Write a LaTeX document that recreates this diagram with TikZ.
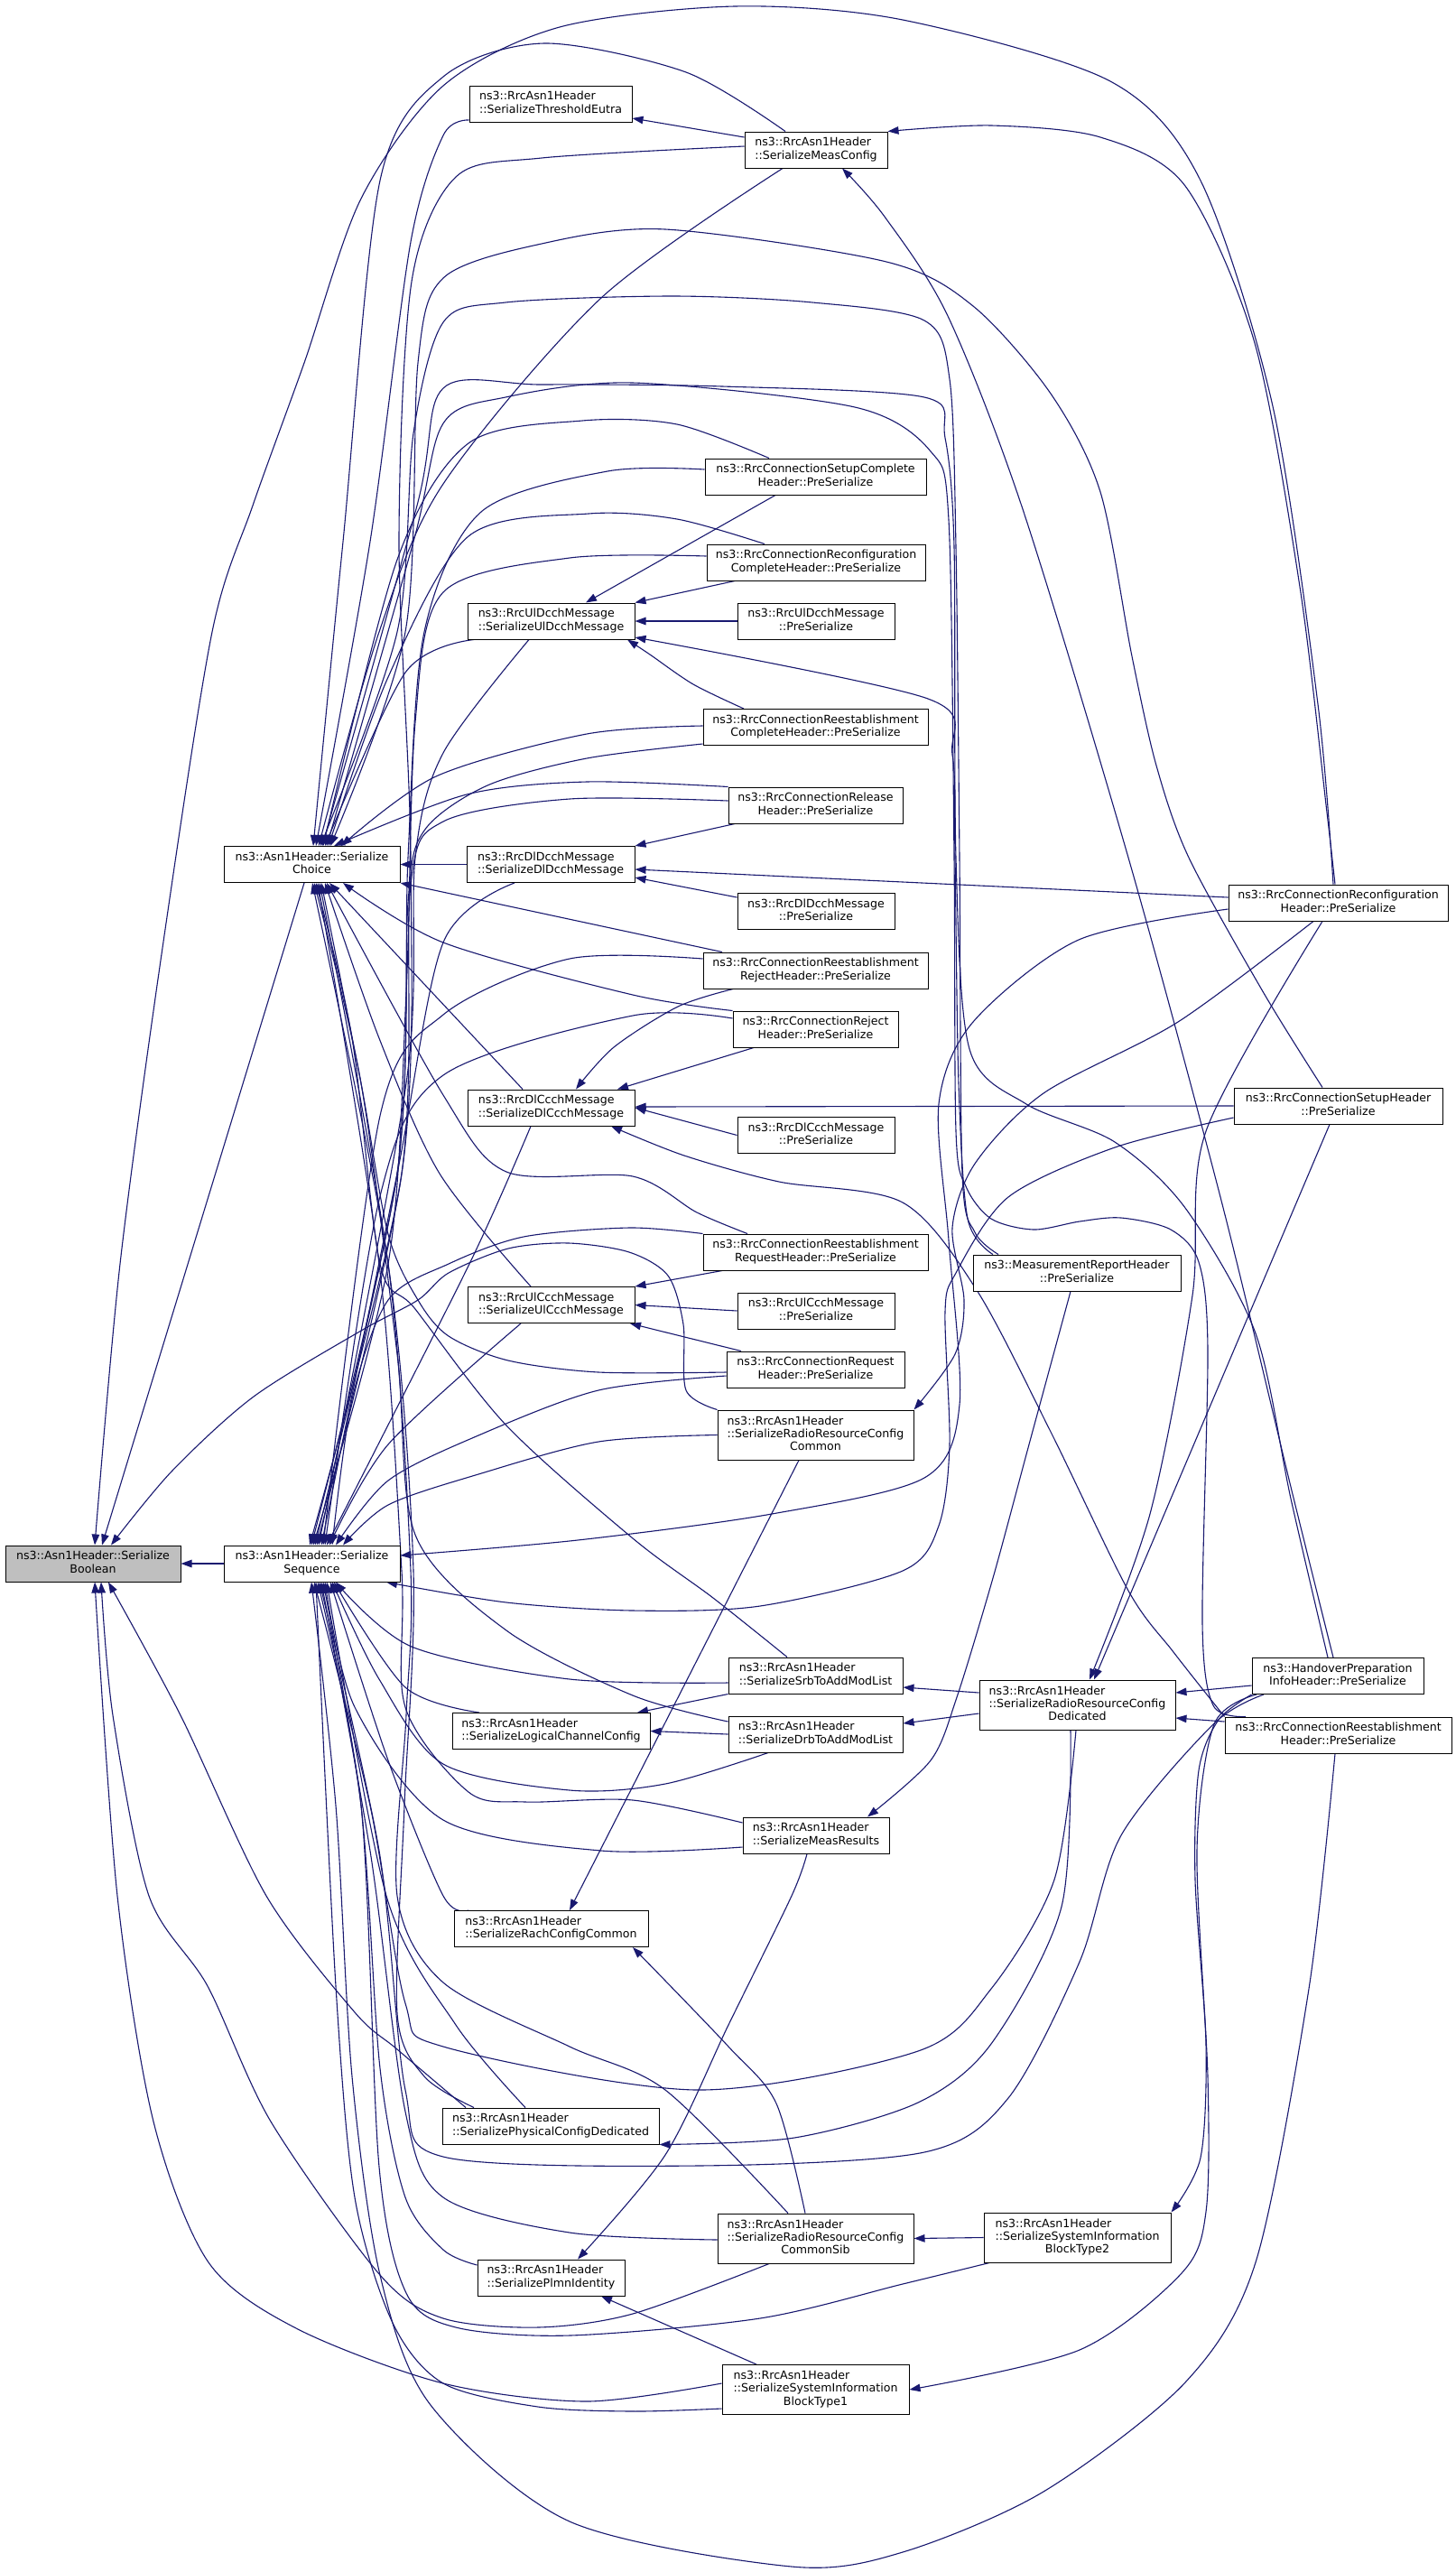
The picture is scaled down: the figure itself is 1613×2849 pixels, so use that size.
\documentclass[tikz,border=0pt]{standalone}
\usepackage{fontspec}
\setmainfont{DejaVu Sans}
\usetikzlibrary{arrows.meta,backgrounds}
\definecolor{callblue}{HTML}{191970}
\definecolor{focusgray}{HTML}{BFBFBF}
\newcommand{\fnlab}[2]{\begin{tabular}{@{}l@{}}#1\\\multicolumn{1}{@{}c@{}}{#2}\end{tabular}}
\newcommand{\fnlabb}[3]{\begin{tabular}{@{}l@{}}#1\\#2\\\multicolumn{1}{@{}c@{}}{#3}\end{tabular}}
\tikzset{
  fn/.style={draw=black, fill=white, line width=1pt, inner sep=0pt, minimum height=40pt,
    font=\fontsize{12.6pt}{14.3pt}\selectfont},
  fn3/.style={fn, minimum height=55pt},
  call/.style={draw=callblue, line width=1.1pt, -{Triangle[length=12pt,width=8.5pt]}},
}
\begin{document}
\begin{tikzpicture}[x=1pt, y=-1pt]
    % Page
    \useasboundingbox (0,0) rectangle (1613,2849);

    % Column 0 and 1
    \node[fn, fill=focusgray, minimum width=194pt] (B) at (103,1732) {\fnlab{ns3::Asn1Header::Serialize}{Boolean}};
    \node[fn, minimum width=195pt] (C) at (345.5,957.5) {\fnlab{ns3::Asn1Header::Serialize}{Choice}};
    \node[fn, minimum width=195pt] (S) at (345.5,1732) {\fnlab{ns3::Asn1Header::Serialize}{Sequence}};

    % Column 2
    \node[fn, minimum width=180pt] (TE) at (610,115) {\fnlab{ns3::RrcAsn1Header}{::SerializeThresholdEutra}};
    \node[fn, minimum width=185pt] (UDS) at (610.5,688) {\fnlab{ns3::RrcUlDcchMessage}{::SerializeUlDcchMessage}};
    \node[fn, minimum width=186pt] (DDS) at (610,957.5) {\fnlab{ns3::RrcDlDcchMessage}{::SerializeDlDcchMessage}};
    \node[fn, minimum width=185pt] (DCS) at (610.5,1227) {\fnlab{ns3::RrcDlCcchMessage}{::SerializeDlCcchMessage}};
    \node[fn, minimum width=185pt] (UCS) at (610.5,1445.5) {\fnlab{ns3::RrcUlCcchMessage}{::SerializeUlCcchMessage}};
    \node[fn, minimum width=219pt] (LCC) at (610.5,1917.5) {\fnlab{ns3::RrcAsn1Header}{::SerializeLogicalChannelConfig}};
    \node[fn, minimum width=215pt] (RCC) at (610.5,2136.5) {\fnlab{ns3::RrcAsn1Header}{::SerializeRachConfigCommon}};
    \node[fn, minimum width=240pt] (PCD) at (610,2355) {\fnlab{ns3::RrcAsn1Header}{::SerializePhysicalConfigDedicated}};
    \node[fn, minimum width=163pt] (PI) at (610.5,2523) {\fnlab{ns3::RrcAsn1Header}{::SerializePlmnIdentity}};

    % Column 3
    \node[fn, minimum width=158pt] (MC) at (904,166) {\fnlab{ns3::RrcAsn1Header}{::SerializeMeasConfig}};
    \node[fn, minimum width=245pt] (SCH) at (903.5,528) {\fnlab{ns3::RrcConnectionSetupComplete}{Header::PreSerialize}};
    \node[fn, minimum width=242pt] (RCCH) at (904,623) {\fnlab{ns3::RrcConnectionReconfiguration}{CompleteHeader::PreSerialize}};
    \node[fn, minimum width=174pt] (UDP) at (904,688) {\fnlab{ns3::RrcUlDcchMessage}{::PreSerialize}};
    \node[fn, minimum width=249pt] (RECH) at (903.5,805.5) {\fnlab{ns3::RrcConnectionReestablishment}{CompleteHeader::PreSerialize}};
    \node[fn, minimum width=193pt] (RLH) at (903.5,892) {\fnlab{ns3::RrcConnectionRelease}{Header::PreSerialize}};
    \node[fn, minimum width=174pt] (DDP) at (904,1009.5) {\fnlab{ns3::RrcDlDcchMessage}{::PreSerialize}};
    \node[fn, minimum width=249pt] (RERH) at (903.5,1075) {\fnlab{ns3::RrcConnectionReestablishment}{RejectHeader::PreSerialize}};
    \node[fn, minimum width=183pt] (RJH) at (903.5,1140) {\fnlab{ns3::RrcConnectionReject}{Header::PreSerialize}};
    \node[fn, minimum width=174pt] (DCP) at (904,1257.5) {\fnlab{ns3::RrcDlCcchMessage}{::PreSerialize}};
    \node[fn, minimum width=249pt] (RQRH) at (903.5,1387) {\fnlab{ns3::RrcConnectionReestablishment}{RequestHeader::PreSerialize}};
    \node[fn, minimum width=174pt] (UCP) at (904,1452) {\fnlab{ns3::RrcUlCcchMessage}{::PreSerialize}};
    \node[fn, minimum width=197pt] (RQH) at (903.5,1517) {\fnlab{ns3::RrcConnectionRequest}{Header::PreSerialize}};
    \node[fn3, minimum width=217pt] (RRCC) at (903.5,1589.5) {\fnlabb{ns3::RrcAsn1Header}{::SerializeRadioResourceConfig}{Common}};
    \node[fn, minimum width=193pt] (SRB) at (903.5,1856) {\fnlab{ns3::RrcAsn1Header}{::SerializeSrbToAddModList}};
    \node[fn, minimum width=193pt] (DRB) at (903.5,1921) {\fnlab{ns3::RrcAsn1Header}{::SerializeDrbToAddModList}};
    \node[fn, minimum width=162pt] (MR) at (904,2033) {\fnlab{ns3::RrcAsn1Header}{::SerializeMeasResults}};
    \node[fn3, minimum width=217pt] (RRCS) at (903.5,2479.5) {\fnlabb{ns3::RrcAsn1Header}{::SerializeRadioResourceConfig}{CommonSib}};
    \node[fn3, minimum width=207pt] (SIB1) at (903.5,2647) {\fnlabb{ns3::RrcAsn1Header}{::SerializeSystemInformation}{BlockType1}};

    % Column 4
    \node[fn, minimum width=230pt] (MRH) at (1193,1410) {\fnlab{ns3::MeasurementReportHeader}{::PreSerialize}};
    \node[fn3, minimum width=217pt] (RRCD) at (1193.5,1888.5) {\fnlabb{ns3::RrcAsn1Header}{::SerializeRadioResourceConfig}{Dedicated}};
    \node[fn3, minimum width=207pt] (SIB2) at (1193.5,2478.5) {\fnlabb{ns3::RrcAsn1Header}{::SerializeSystemInformation}{BlockType2}};

    % Column 5
    \node[fn, minimum width=243pt] (RCH) at (1482.5,1000) {\fnlab{ns3::RrcConnectionReconfiguration}{Header::PreSerialize}};
    \node[fn, minimum width=231pt] (SUH) at (1482.5,1225) {\fnlab{ns3::RrcConnectionSetupHeader}{::PreSerialize}};
    \node[fn, minimum width=190pt] (HPI) at (1482,1856.5) {\fnlab{ns3::HandoverPreparation}{InfoHeader::PreSerialize}};
    \node[fn, minimum width=251pt] (REH) at (1482.5,1922) {\fnlab{ns3::RrcConnectionReestablishment}{Header::PreSerialize}};

    \begin{scope}[on background layer]
    \fill[white] (0,0) rectangle (1613,2849);
    % Straight calls between neighbours
    \foreach \a/\b in {S/B, DDS/C, UDP/UDS, DCP/DCS, UCP/UCS, DRB/LCC, SIB2/RRCS}
        \draw[call] (\a.west) -- (\b.east);
    \draw[call] (MC.west |- 0,152) -- (TE.east |- 0,131);
    \draw[call] (DDP.west |- 0,994) -- (DDS.east |- 0,972);
    \draw[call] (RCH.west |- 0,994) -- (DDS.east |- 0,963);
    \draw[call] (SUH.west |- 0,1225) -- (DCS.east |- 0,1226);
    \draw[call] (SRB.south west) -- (706,0 |- LCC.north);
    \draw[call] (RRCD.west |- 0,1875) -- (SRB.east |- 0,1869);
    \draw[call] (RRCD.west |- 0,1898) -- (DRB.east |- 0,1909);
    \draw[call] (HPI.west |- 0,1867) -- (RRCD.east |- 0,1875);
    \draw[call] (REH.west |- 0,1907) -- (RRCD.east |- 0,1903);
    \draw[call] (859,0 |- SCH.south) -- (649,0 |- UDS.north);
    \draw[call] (814,0 |- RCCH.south) -- (UDS.north east);
    \draw[call] (814,0 |- RLH.south) -- (DDS.north east);
    \draw[call] (835,0 |- RJH.south) -- (684,0 |- DCS.north);
    \draw[call] (800,0 |- RQRH.south) -- (UCS.north east);
    \draw[call] (821,0 |- RQH.north) -- (698,0 |- UCS.south);
    \draw[call] (885,0 |- RRCC.south) -- (631,0 |- RCC.north);
    \draw[call] (838,0 |- SIB1.north) -- (666,0 |- PI.south);
    \draw[call] (1473,0 |- SUH.south) -- (1212,0 |- RRCD.north);
    \draw[call] (800,0 |- RERH.north) -- (C.south east);
    \draw[call] (579,0 |- DCS.north) -- (365,0 |- C.south);
    \draw[call] (337,0 |- C.south) -- (113,0 |- B.north);

    % Calls into Choice from above
    \draw[call] plot[smooth] coordinates {(TE.west |- 0,133) (491,150) (455,268) (410,600) (350,0 |- C.north)};
    \draw[call] plot[smooth] coordinates {(870,0 |- MC.north) (760,80) (603,48) (491,85) (421,200) (380,600) (347,0 |- C.north)};
    \draw[call] plot[smooth] coordinates {(867,0 |- MC.south) (666,330) (491,536) (420,700) (353,0 |- C.north)};
    \draw[call] plot[smooth] coordinates {(852,0 |- SCH.north) (750,470) (645,466) (519,491) (440,620) (358,0 |- C.north)};
    \draw[call] plot[smooth] coordinates {(847,0 |- RCCH.north) (750,575) (652,569) (519,594) (430,750) (364,0 |- C.north)};
    \draw[call] plot[smooth] coordinates {(525,0 |- UDS.south) (449,745) (360,0 |- C.north)};
    \draw[call] plot[smooth] coordinates {(RECH.west |- 0,804) (650,813) (483,860) (378,0 |- C.north)};
    \draw[call] plot[smooth] coordinates {(RLH.north west) (650,866) (517,880) (370,0 |- C.north)};

    % Calls into Choice from below
    \draw[call] plot[smooth] coordinates {(RJH.north west) (701,1102) (491,1044) (380,0 |- C.south)};
    \draw[call] plot[smooth] coordinates {(828,0 |- RQRH.north) (772,1343) (701,1303) (561,1298) (491,1213) (362,0 |- C.south)};
    \draw[call] plot[smooth] coordinates {(RQH.west |- 0,1520) (663,1520) (563,1507) (497,1480) (463,1440) (430,1367) (400,1200) (356,0 |- C.south)};
    \draw[call] plot[smooth] coordinates {(588,0 |- UCS.north) (487,1300) (420,1150) (360,0 |- C.south)};
    \draw[call] plot[smooth] coordinates {(872,0 |- SRB.north) (790,1770) (701,1704) (561,1579) (460,1450) (421,1400) (390,1150) (350,0 |- C.south)};
    \draw[call] plot[smooth] coordinates {(DRB.west |- 0,1907) (701,1878) (561,1806) (460,1700) (440,1500) (400,1200) (348,0 |- C.south)};
    \draw[call] plot[smooth] coordinates {(MR.west |- 0,2019) (701,1994) (582,1996) (519,1985) (449,1891) (445,1740) (420,1400) (352,0 |- C.south)};
    \draw[call] plot[smooth] coordinates {(525,0 |- PCD.north) (470,2300) (440,2230) (448,2000) (458,1740) (430,1400) (346,0 |- C.south)};
    \draw[call] plot[smooth] coordinates {(873,0 |- RRCS.north) (737,2315) (631,2267) (491,2196) (440,2100) (450,1900) (455,1740) (430,1400) (354,0 |- C.south)};

    % Calls into Sequence from above
    \draw[call] plot[smooth] coordinates {(MC.west |- 0,162) (600,175) (505,196) (456,312) (442,600) (455,950) (445,1300) (343,0 |- S.north)};
    \draw[call] plot[smooth] coordinates {(SCH.west |- 0,520) (673,522) (533,567) (470,700) (452,950) (440,1300) (345,0 |- S.north)};
    \draw[call] plot[smooth] coordinates {(RCCH.west |- 0,616) (631,618) (491,656) (460,800) (450,1100) (430,1400) (347,0 |- S.north)};
    \draw[call] plot[smooth] coordinates {(586,0 |- UDS.south) (491,834) (460,950) (450,1200) (353,0 |- S.north)};
    \draw[call] plot[smooth] coordinates {(RECH.west |- 0,824) (650,840) (540,870) (470,920) (452,1000) (440,1300) (349,0 |- S.north)};
    \draw[call] plot[smooth] coordinates {(RLH.west |- 0,887) (631,885) (491,910) (455,980) (445,1300) (351,0 |- S.north)};
    \draw[call] plot[smooth] coordinates {(570,0 |- DDS.south) (491,1044) (440,1300) (356,0 |- S.north)};
    \draw[call] plot[smooth] coordinates {(RERH.west |- 0,1062) (631,1062) (491,1124) (421,1236) (358,0 |- S.north)};
    \draw[call] plot[smooth] coordinates {(RJH.west |- 0,1128) (701,1125) (491,1191) (421,1325) (360,0 |- S.north)};
    \draw[call] plot[smooth] coordinates {(588,0 |- DCS.south) (520,1400) (362,0 |- S.north)};
    \draw[call] plot[smooth] coordinates {(RQRH.north west) (697,1360) (580,1370) (497,1400) (430,1440) (390,1550) (368,0 |- S.north)};
    \draw[call] plot[smooth] coordinates {(577,0 |- UCS.south) (430,1600) (365,0 |- S.north)};
    \draw[call] plot[smooth] coordinates {(RQH.west |- 0,1524) (663,1540) (530,1590) (430,1640) (372,0 |- S.north)};
    \draw[call] plot[smooth] coordinates {(RRCC.west) (663,1597) (530,1633) (430,1667) (380,0 |- S.north)};

    % Calls into Sequence from below
    \draw[call] plot[smooth] coordinates {(531,0 |- LCC.north) (449,1869) (370,0 |- S.south)};
    \draw[call] plot[smooth] coordinates {(519,0 |- RCC.north) (491,2100) (430,1950) (366,0 |- S.south)};
    \draw[call] plot[smooth] coordinates {(582,0 |- PCD.north) (505,2243) (428,2100) (362,0 |- S.south)};
    \draw[call] plot[smooth] coordinates {(PI.west |- 0,2509) (491,2492) (449,2434) (421,2291) (400,2000) (358,0 |- S.south)};
    \draw[call] plot[smooth] coordinates {(SRB.west |- 0,1864) (631,1860) (456,1824) (372,0 |- S.south)};
    \draw[call] plot[smooth] coordinates {(851,0 |- DRB.south) (737,1976) (631,1983) (491,1954) (420,1860) (368,0 |- S.south)};
    \draw[call] plot[smooth] coordinates {(MR.west |- 0,2046) (666,2050) (491,2016) (393,1891) (360,0 |- S.south)};
    \draw[call] plot[smooth] coordinates {(RRCS.west |- 0,2481) (631,2473) (491,2434) (449,2339) (410,2050) (356,0 |- S.south)};
    \draw[call] plot[smooth] coordinates {(SIB1.west |- 0,2668) (701,2671) (596,2666) (491,2640) (435,2573) (393,2434) (372,2200) (350,0 |- S.south)};
    \draw[call] plot[smooth] coordinates {(1096,0 |- SIB2.south) (1000,2530) (842,2568) (631,2587) (505,2578) (450,2540) (420,2400) (400,2000) (352,0 |- S.south)};
    \draw[call] plot[smooth] coordinates {(1192,0 |- RRCD.south) (1168,2082) (1098,2203) (1017,2272) (772,2315) (491,2267) (449,2219) (410,2000) (348,0 |- S.south)};
    \draw[call] plot[smooth] coordinates {(1400,0 |- HPI.south) (1344,1910) (1242,2033) (1196,2173) (1117,2324) (1024,2384) (772,2399) (491,2389) (449,2315) (420,2050) (354,0 |- S.south)};
    \draw[call] plot[smooth] coordinates {(1479,0 |- REH.south) (1450,2203) (1391,2506) (1313,2639) (1156,2760) (1000,2827) (877,2843) (631,2793) (477,2664) (421,2520) (390,2300) (372,2000) (345,0 |- S.south)};
    \draw[call] plot[smooth] coordinates {(SUH.west |- 0,1238) (1235,1271) (1117,1326) (1059,1410) (1047,1453) (1052,1600) (1040,1690) (1000,1740) (842,1779) (701,1784) (561,1775) (428,0 |- S.south)};
    \draw[call] plot[smooth] coordinates {(RCH.west |- 0,1007) (1195,1041) (1078,1132) (1040,1223) (1051,1374) (1063,1556) (1024,1637) (855,1677) (640,1706) (S.east |- 0,1723)};

    % Calls into Boolean
    \draw[call] plot[smooth] coordinates {(1477,0 |- RCH.north) (1460,780) (1410,450) (1330,200) (1230,90) (1000,22) (814,7) (620,30) (491,95) (400,220) (337,402) (280,560) (235,700) (180,1050) (133,1400) (105,0 |- B.north)};
    \draw[call] plot[smooth] coordinates {(RRCC.north west) (760,1540) (757,1467) (740,1413) (697,1387) (630,1377) (563,1383) (497,1410) (463,1440) (400,1474) (281,1547) (190,1630) (123,0 |- B.north)};
    \draw[call] plot[smooth] coordinates {(SIB1.west |- 0,2640) (650,2660) (491,2640) (330,2580) (231,2506) (170,2350) (130,2100) (105,0 |- B.south)};
    \draw[call] plot[smooth] coordinates {(852,0 |- RRCS.south) (701,2563) (596,2578) (491,2568) (421,2520) (300,2350) (230,2200) (165,2100) (125,1900) (112,0 |- B.south)};
    \draw[call] plot[smooth] coordinates {(516,0 |- PCD.north) (440,2270) (393,2229) (295,2100) (200,1900) (120,0 |- B.south)};

    % Calls between the message helpers
    \draw[call] plot[smooth] coordinates {(824,0 |- RECH.north) (768,758) (720,725) (695,0 |- UDS.south)};
    \draw[call] plot[smooth] coordinates {(812,0 |- RERH.south) (751,1115) (680,1160) (638,0 |- DCS.north)};
    \draw[call] plot[smooth] coordinates {(REH.north west) (1300,1830) (1250,1762) (1164,1586) (1082,1429) (1000,1332) (863,1309) (758,1280) (677,0 |- DCS.south)};
    \draw[call] plot[smooth] coordinates {(1100,0 |- MRH.north) (1072,1350) (1062,1200) (1058,950) (1055,836) (1028,774) (UDS.east |- 0,706)};

    % Long calls from the right columns
    \draw[call] plot[smooth] coordinates {(1479,0 |- RCH.north) (1470,900) (1440,650) (1390,380) (1313,206) (1219,152) (1098,139) (MC.north east)};
    \draw[call] plot[smooth] coordinates {(1477,0 |- HPI.north) (1430,1647) (1352,1326) (1250,950) (1133,564) (1050,350) (980,240) (933,0 |- MC.south)};
    \draw[call] plot[smooth] coordinates {(1455,0 |- RCH.south) (1305,1132) (1156,1211) (1080,1289) (1055,1360) (1068,1440) (1058,1500) (RRCC.north east)};
    \draw[call] plot[smooth] coordinates {(1465,0 |- RCH.south) (1336,1253) (1321,1435) (1274,1677) (1207,0 |- RRCD.north)};
    \draw[call] plot[smooth] coordinates {(1465,0 |- SUH.north) (1400,1100) (1317,950) (1281,848) (1254,727) (1219,545) (1164,436) (1078,339) (982,290) (737,254) (600,270) (491,308) (463,402) (449,700) (366,0 |- C.north)};
    \draw[call] plot[smooth] coordinates {(1106,0 |- MRH.north) (1080,1365) (1066,1300) (1063,950) (1059,606) (1052,420) (1024,355) (900,335) (744,328) (560,335) (491,357) (458,480) (440,700) (355,0 |- C.north)};
    \draw[call] plot[smooth] coordinates {(1471,0 |- HPI.north) (1430,1660) (1391,1477) (1313,1338) (1235,1265) (1137,1223) (1074,1162) (1059,950) (1057,606) (1047,485) (1024,440) (800,428) (600,426) (491,430) (462,560) (357,0 |- C.north)};
    \draw[call] plot[smooth] coordinates {(1380,0 |- REH.north) (1344,1889) (1332,1798) (1338,1495) (1328,1398) (1297,1362) (1242,1349) (1196,1353) (1145,1362) (1098,1350) (1070,1314) (1059,1253) (1057,950) (1051,576) (1031,500) (947,451) (701,424) (560,440) (491,469) (458,600) (362,0 |- C.north)};
    \draw[call] plot[smooth] coordinates {(1186,0 |- MRH.south) (1140,1600) (1100,1748) (1060,1880) (1031,1950) (961,0 |- MR.north)};
    \draw[call] plot[smooth] coordinates {(894,0 |- MR.south) (877,2100) (807,2243) (737,2387) (640,0 |- PI.north)};
    \draw[call] plot[smooth] coordinates {(892,0 |- RRCS.north) (860,2330) (807,2267) (701,0 |- RCC.south)};
    \draw[call] plot[smooth] coordinates {(1186,0 |- RRCD.south) (1176,2112) (1098,2264) (1017,2329) (880,2368) (PCD.south east)};
    \draw[call] plot[smooth] coordinates {(HPI.south west) (1350,1905) (1328,1961) (1324,2082) (1336,2264) (1330,2390) (SIB2.north east)};
    \draw[call] plot[smooth] coordinates {(1392,0 |- HPI.south) (1345,1910) (1326,2050) (1338,2300) (1336,2450) (1309,2518) (1196,2603) (SIB1.east)};
    \end{scope}
\end{tikzpicture}
\end{document}
